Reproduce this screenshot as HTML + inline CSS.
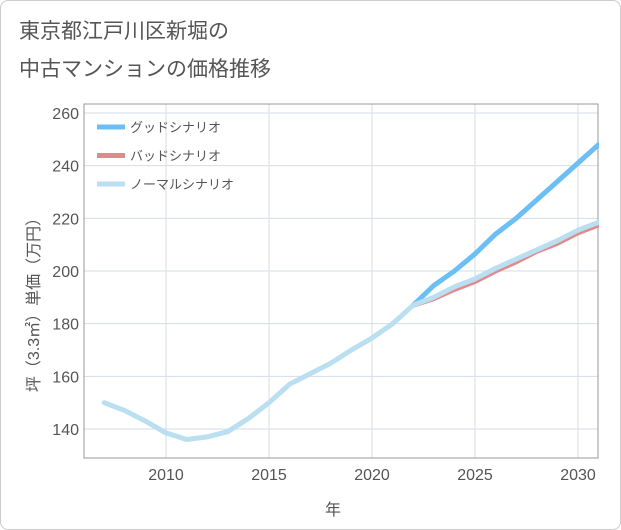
<!DOCTYPE html>
<html><head><meta charset="utf-8"><style>
body{margin:0;background:#fff;}
#wrap{position:relative;width:619px;height:528px;border:1px solid #ccc;border-radius:8px;overflow:hidden;background:#fff;font-family:"Liberation Sans","Noto Sans CJK JP",sans-serif;}
#title{position:absolute;left:18px;top:12px;font-size:21px;line-height:38px;color:#555;}
svg{position:absolute;left:0;top:0;}
</style></head><body>
<div id="wrap">
<div id="title">東京都江戸川区新堀の<br>中古マンションの価格推移</div>
<svg id="chart" width="621" height="530"></svg>
</div>
<script>
const years=[2007,2008,2009,2010,2011,2012,2013,2014,2015,2016,2017,2018,2019,2020,2021,2022,2023,2024,2025,2026,2027,2028,2029,2030,2031];
const normalVals=[150,147,143,138.5,136,137,139,144,150,157,161,165,170,174.5,180,187,190,194,197,201,204.5,208,211.5,215.5,218.5];
const goodYears=[2022,2023,2024,2025,2026,2027,2028,2029,2030,2031];
const goodVals=[187,194.5,200,206.5,214,220,227,234,241,248];
const badVals=[187,189.5,193,196,200,203.5,207.5,210.5,214.5,217.5];
const xTicks=[2010,2015,2020,2025,2030];
const yTicks=[140,160,180,200,220,240,260];
const legendLabels=["グッドシナリオ","バッドシナリオ","ノーマルシナリオ"];
const colors=["#6bbff5","#e08a8e","#b9dff0"];
const L=83,R=597,T=103,B=457;
const x=v=>165+(v-2010)*20.6;
const y=v=>428-(v-140)*(316/120);
const svg=document.getElementById('chart');
const NS='http://www.w3.org/2000/svg';
function mk(t,a){const e=document.createElementNS(NS,t);for(const k in a)e.setAttribute(k,a[k]);svg.appendChild(e);return e;}
xTicks.forEach(t=>{const l=mk('line',{x1:x(t),x2:x(t),y1:T,y2:B,stroke:'#d5dde6','stroke-width':1});


const tx=mk('text',{x:x(t),y:479,'text-anchor':'middle','font-size':16,fill:'#555'});tx.textContent=t;

});
yTicks.forEach(t=>{const l=mk('line',{x1:L,x2:R,y1:y(t),y2:y(t),stroke:'#d5dde6','stroke-width':1});


const tx=mk('text',{x:78,y:y(t)+6,'text-anchor':'end','font-size':16,fill:'#555'});tx.textContent=t;

});
const frame=mk('rect',{x:L,y:T,width:R-L,height:B-T,fill:'none',stroke:'#999','stroke-width':1});


const xt=mk('text',{x:332,y:514,'text-anchor':'middle','font-size':16,fill:'#555'});xt.textContent='年';


const yt=mk('text',{x:0,y:0,'text-anchor':'middle','font-size':16,fill:'#555',transform:'translate(38,300) rotate(-90)'});yt.textContent='坪（3.3㎡）単価（万円）';


function line(xs,vs,c,name){const d=vs.map((v,i)=>(i?'L':'M')+x(xs[i]).toFixed(1)+','+y(v).toFixed(1)).join('');
const p=mk('path',{d:d,fill:'none',stroke:c,'stroke-width':5,'stroke-linejoin':'round','stroke-linecap':'round'});

}
line(goodYears,goodVals,colors[0],'good-scenario-line');
line(goodYears,badVals,colors[1],'bad-scenario-line');
line(years,normalVals,colors[2],'normal-scenario-line');
const cover=mk('rect',{x:R+1,y:T,width:30,height:B-T,fill:'#fff'});


legendLabels.forEach((s,i)=>{const yy=126+i*28.5;
const l=mk('line',{x1:96,x2:124,y1:yy,y2:yy,stroke:colors[i],'stroke-width':5});


const tx=mk('text',{x:129,y:yy+5,'font-size':13,fill:'#555'});tx.textContent=s;

});
</script>
</body></html>
